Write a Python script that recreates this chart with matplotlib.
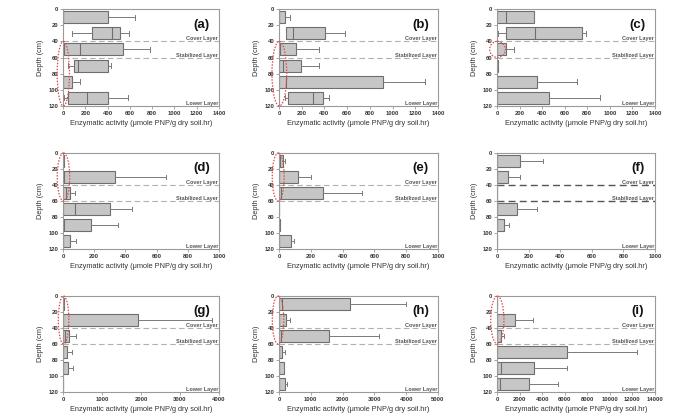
import matplotlib
matplotlib.use("Agg")
import matplotlib.pyplot as plt
from matplotlib.patches import Ellipse

plt.rcParams['font.family'] = ['Liberation Sans', 'DejaVu Sans']
plt.rcParams['font.weight'] = 'bold'

# ==========================================
# Data (depth in cm, activity in umole PNP/g dry soil.hr)
# ==========================================

DEPTHS = [10, 30, 50, 70, 90, 110]
ZERO = [0, 0, 0, 0, 0, 0]

# (a)
A_LO = [0, 84, 0, 48, 0, 10]
A_Q1 = [0, 257, 10, 96, 0, 42]
A_MED = [0, 437, 154, 138, 0, 212]
A_Q3 = [405, 514, 534, 405, 84, 405]
A_HI = [643, 588, 781, 434, 154, 579]

# (b)
B_LO = [0, 62, 0, 0, 0, 53]
B_Q1 = [0, 62, 0, 0, 0, 75]
B_MED = [0, 125, 12, 37, 62, 297]
B_Q3 = [53, 406, 153, 194, 919, 388]
B_HI = [94, 578, 356, 356, 1288, 438]

# (c)
C_LO = [0, 6, 0, 0, 0, 0]
C_Q1 = [0, 76, 0, 0, 0, 0]
C_MED = [76, 339, 0, 0, 0, 0]
C_Q3 = [327, 752, 76, 5, 358, 464]
C_HI = [327, 788, 152, 5, 712, 912]

# (d)
D_MED = [0, 8, 17, 80, 6, 0]
D_Q3 = [5, 333, 42, 301, 181, 48]
D_HI = [5, 659, 76, 444, 354, 86]

# (e)
E_MED = [5, 0, 15, 0, 0, 0]
E_Q3 = [27, 118, 275, 3, 8, 75]
E_HI = [38, 200, 525, 3, 8, 95]

# (f)
F_MED = [0, 0, 0, 0, 0, 0]
F_Q3 = [143, 72, 0, 128, 42, 0]
F_HI = [290, 143, 0, 255, 78, 0]

# (g)
G_MED = [0, 0, 50, 0, 0, 0]
G_Q3 = [15, 1915, 152, 110, 136, 0]
G_HI = [15, 3810, 339, 237, 263, 0]

# (h)
H_MED = [105, 0, 74, 0, 0, 0]
H_Q3 = [2236, 211, 1572, 105, 158, 180]
H_HI = [4008, 338, 3133, 180, 158, 250]

# (i)
I_MED = [0, 0, 0, 0, 381, 235]
I_Q3 = [0, 1613, 381, 6188, 3255, 2874]
I_HI = [0, 3167, 587, 12400, 6188, 5425]

LABELS = ["(a)", "(b)", "(c)", "(d)", "(e)", "(f)", "(g)", "(h)", "(i)"]
XMAX = [1400, 1400, 1400, 1000, 1000, 1000, 4000, 5000, 14000]
XSTEP = [200, 200, 200, 200, 200, 200, 1000, 1000, 2000]

# red ellipse: (x centre, depth centre, width, height)
ELLIPSES = [(3, 80, 110, 80), (3, 80, 130, 80), (5, 50, 140, 20),
            (3, 30, 80, 60), (-5, 30, 75, 60), None,
            (15, 30, 270, 60), (-30, 30, 360, 60), (30, 30, 1170, 60)]

PANELS = [
    (A_LO, A_Q1, A_MED, A_Q3, A_HI),
    (B_LO, B_Q1, B_MED, B_Q3, B_HI),
    (C_LO, C_Q1, C_MED, C_Q3, C_HI),
    (ZERO, ZERO, D_MED, D_Q3, D_HI),
    (ZERO, ZERO, E_MED, E_Q3, E_HI),
    (ZERO, ZERO, F_MED, F_Q3, F_HI),
    (ZERO, ZERO, G_MED, G_Q3, G_HI),
    (ZERO, ZERO, H_MED, H_Q3, H_HI),
    (ZERO, ZERO, I_MED, I_Q3, I_HI),
]

# ==========================================
# Layout (pixel edges of each axes)
# ==========================================

W, H = 691, 416
COL_LEFT = [63, 279, 497]
COL_RIGHT = [219, 438, 655]
ROW_TOP = [9, 153, 296]
ROW_BOTTOM = [106, 249, 392]

fig = plt.figure(figsize=(W / 100, H / 100), dpi=100)

TXT = "#333333"
FRAME = "#9a9a9a"

for k, (lo, q1, med, q3, hi) in enumerate(PANELS):
    r, c = divmod(k, 3)
    ax = fig.add_axes([COL_LEFT[c] / W, 1 - ROW_BOTTOM[r] / H,
                       (COL_RIGHT[c] - COL_LEFT[c]) / W,
                       (ROW_BOTTOM[r] - ROW_TOP[r]) / H])

    stats = []
    for j in range(len(DEPTHS)):
        stats.append(dict(whislo=lo[j], q1=q1[j], med=med[j],
                          q3=q3[j], whishi=hi[j]))

    ax.bxp(stats, positions=DEPTHS, widths=15, orientation='horizontal',
           patch_artist=True, showfliers=False, capwidths=6,
           boxprops=dict(facecolor="#c6c6c6", edgecolor="#6e6e6e", linewidth=0.8),
           medianprops=dict(color="#6e6e6e", linewidth=0.8),
           whiskerprops=dict(color="#7a7a7a", linewidth=0.7),
           capprops=dict(color="#7a7a7a", linewidth=0.7),
           manage_ticks=False)

    # layer boundaries
    if k == 5:
        dash_color, dash_lw = "#555555", 1.0
    else:
        dash_color, dash_lw = "#b0b0b0", 0.8
    ax.axhline(40, color=dash_color, lw=dash_lw, ls=(0, (5, 3)), zorder=0)
    ax.axhline(60, color=dash_color, lw=dash_lw, ls=(0, (5, 3)), zorder=0)

    ytr = ax.get_yaxis_transform()
    ax.text(0.995, 40, "Cover Layer", transform=ytr,
            ha='right', va='bottom', fontsize=4, color="#555555")
    ax.text(0.995, 60, "Stabilized Layer", transform=ytr,
            ha='right', va='bottom', fontsize=4, color="#555555")
    ax.text(0.995, 119.5, "Lower Layer", transform=ytr,
            ha='right', va='bottom', fontsize=4, color="#555555")

    ax.text(0.89, 0.84, LABELS[k], transform=ax.transAxes, ha='center',
            va='center', fontsize=9.5, color="#111111")

    if ELLIPSES[k] is not None:
        ex, ey, ew, eh = ELLIPSES[k]
        ax.add_patch(Ellipse((ex, ey), ew, eh, fill=False, edgecolor="#e04848",
                             ls=(0, (1.2, 1.2)), lw=0.9, clip_on=False, zorder=5))

    ax.set_xlim(0, XMAX[k])
    ax.set_ylim(120, 0)
    ax.set_xticks(range(0, XMAX[k] + 1, XSTEP[k]))
    ax.set_yticks(range(0, 121, 20))
    ax.tick_params(labelsize=4.2, colors=FRAME, labelcolor=TXT, length=2,
                   width=0.6, pad=1.5)
    for sp in ax.spines.values():
        sp.set_color(FRAME)
        sp.set_linewidth(0.8)

    ax.set_xlabel("Enzymatic activity (\u03bcmole PNP/g dry soil.hr)",
                  fontsize=5.3, color=TXT, labelpad=3)
    ax.set_ylabel("Depth (cm)", fontsize=5.3, color=TXT, labelpad=3)

fig.savefig("out.png", dpi=100)
